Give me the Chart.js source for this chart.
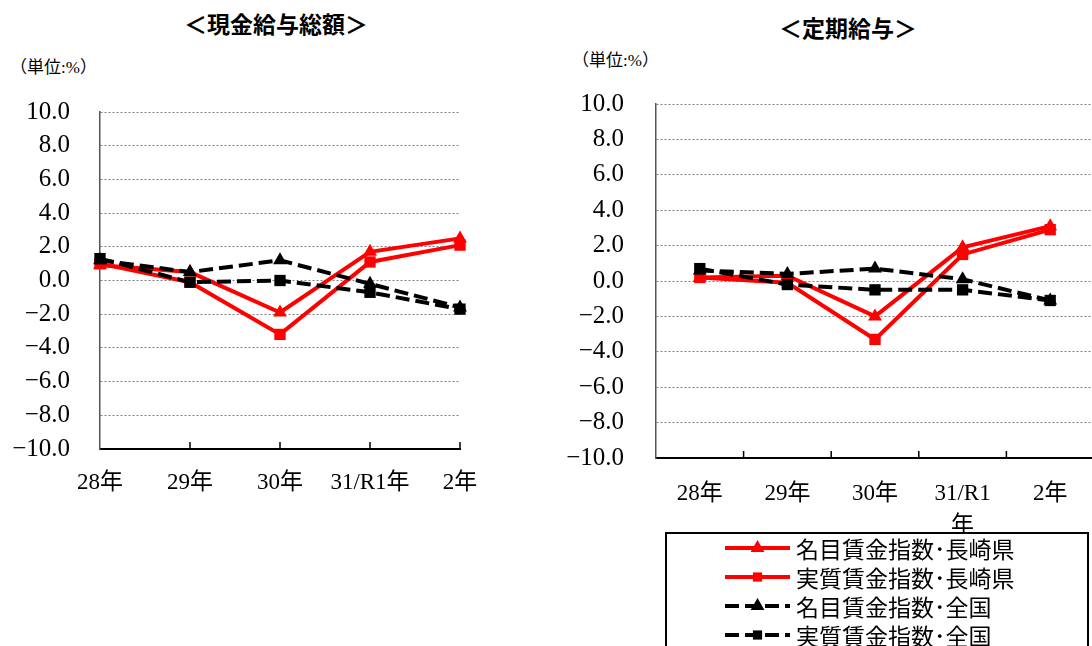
<!DOCTYPE html>
<html>
<head>
<meta charset="utf-8">
<script src="https://cdn.jsdelivr.net/npm/chart.js@4.4.1/dist/chart.umd.min.js"></script>
<style>
html,body{margin:0;padding:0;background:#fff;width:1092px;height:646px;overflow:hidden;position:relative;}
.t{position:absolute;font-family:"Noto Sans CJK JP",sans-serif;font-size:23px;font-weight:bold;color:#000;white-space:nowrap;transform:translate(-50%,-50%);}
.u{position:absolute;font-family:"Liberation Serif","Noto Sans CJK JP",serif;font-size:17px;color:#000;white-space:nowrap;transform:translateY(-50%);}
canvas{position:absolute;top:0;}
</style>
</head>
<body>
<div class="t" style="left:276px;top:23px;">＜現金給与総額＞</div>
<div class="t" style="left:848px;top:27px;">＜定期給与＞</div>
<div class="u" style="left:10px;top:65px;">（単位:%）</div>
<div class="u" style="left:572px;top:58px;">（単位:%）</div>
<canvas id="c1" width="546" height="646" style="left:0"></canvas>
<canvas id="c2" width="560" height="646" style="left:546px"></canvas>
<script>
// ---- data ----
const categoriesTotal = ['28年','29年','30年','31/R1年','2年'];
const categoriesRegular = ['28年','29年','30年',['31/R1','年'],'2年'];
const seriesNames = ['名目賃金指数･長崎県','実質賃金指数･長崎県','名目賃金指数･全国','実質賃金指数･全国'];
const yTicks = [-10,-8,-6,-4,-2,0,2,4,6,8,10];

// 現金給与総額
const nominalNagasakiTotal = [0.9, 0.5, -1.9, 1.7, 2.5];
const realNagasakiTotal    = [1.0, -0.1, -3.2, 1.1, 2.1];
const nominalNationalTotal = [1.2, 0.5, 1.2, -0.2, -1.6];
const realNationalTotal    = [1.3, -0.1, 0.0, -0.7, -1.7];

// 定期給与
const nominalNagasakiRegular = [0.2, 0.3, -2.0, 1.9, 3.1];
const realNagasakiRegular    = [0.2, -0.1, -3.3, 1.5, 2.9];
const nominalNationalRegular = [0.6, 0.4, 0.7, 0.1, -1.1];
const realNationalRegular    = [0.7, -0.2, -0.5, -0.5, -1.1];

// ---- styles ----
const RED = '#FF0000', BLACK = '#000000';
const styles = [
  {color:RED, dash:[], point:'triangle', r:8, order:2},
  {color:RED, dash:[], point:'rect', r:8, order:2},
  {color:BLACK, dash:[14,6], point:'triangle', r:8, order:1},
  {color:BLACK, dash:[14,6], point:'rect', r:8, order:1}
];
function makeDatasets(arrs){
  return arrs.map((d,i)=>({
    label: seriesNames[i], data: d,
    borderColor: styles[i].color, backgroundColor: styles[i].color,
    pointBackgroundColor: styles[i].color, pointBorderColor: styles[i].color,
    borderWidth: 4, borderDash: styles[i].dash,
    pointStyle: styles[i].point, pointRadius: styles[i].r, pointBorderWidth: 0,
    pointHoverRadius: styles[i].r,
    tension: 0, order: styles[i].order, clip: false
  }));
}
const fmt = v => (v < 0 ? '−' : '') + Math.abs(v).toFixed(1);

const innerTicks = {
  id:'innerTicks',
  afterDraw(chart){
    const xs = chart.scales.x, ctx = chart.ctx, n = chart.data.labels.length;
    const bottom = chart.chartArea.bottom;
    const offset = xs.options.offset;
    const step = xs.getPixelForValue(1) - xs.getPixelForValue(0);
    ctx.save();
    ctx.strokeStyle = '#000'; ctx.lineWidth = 1.5;
    for (let i = 1; i < n; i++) {
      const px = offset ? xs.getPixelForValue(i) - step/2 : xs.getPixelForValue(i);
      ctx.beginPath(); ctx.moveTo(px, bottom); ctx.lineTo(px, bottom - 7); ctx.stroke();
    }
    ctx.restore();
  }
};

const legendBox = {
  id:'legendBox',
  afterDraw(chart, args, o){
    if (!o || !o.show) return;
    const ctx = chart.ctx;
    ctx.save();
    ctx.fillStyle = '#fff';
    ctx.fillRect(o.x, o.y, o.w, o.h);
    ctx.strokeStyle = '#000'; ctx.lineWidth = 2;
    ctx.strokeRect(o.x, o.y, o.w, o.h);
    chart.data.datasets.forEach((ds, i) => {
      const y = o.y + o.first + i * o.gap;
      ctx.strokeStyle = ds.borderColor; ctx.lineWidth = 4;
      ctx.setLineDash(ds.borderDash || []);
      ctx.beginPath(); ctx.moveTo(o.lx0, y); ctx.lineTo(o.lx1, y); ctx.stroke();
      ctx.setLineDash([]);
      ctx.fillStyle = ds.pointBackgroundColor;
      Chart.helpers.drawPoint(ctx, {pointStyle: ds.pointStyle, radius: ds.pointStyle === 'rect' ? 6.5 : 8, rotation: 0, borderWidth: 0}, (o.lx0 + o.lx1)/2, y);
      ctx.fillStyle = '#000';
      ctx.font = '23px "Noto Sans CJK JP", sans-serif';
      ctx.textBaseline = 'middle'; ctx.textAlign = 'left';
      ctx.fillText(ds.label, o.tx, y + 1);
    });
    ctx.restore();
  }
};

function makeChart(id, labels, arrs, cfg){
  return new Chart(document.getElementById(id), {
    type: 'line',
    data: { labels: labels, datasets: makeDatasets(arrs) },
    plugins: [innerTicks, legendBox],
    options: {
      responsive: false, animation: false, devicePixelRatio: 1,
      layout: { padding: { top: cfg.top, right: cfg.right, left: 0, bottom: 0 } },
      plugins: { legend: { display: false }, tooltip: { enabled: false }, title: { display: false },
                 legendBox: cfg.legend || {show:false} },
      scales: {
        x: {
          type: 'category', offset: cfg.offset,
          grid: { display: false },
          border: { display: true, color: '#000', width: 2 },
          ticks: { color: '#000', autoSkip: false, maxRotation: 0, minRotation: 0, padding: cfg.xpad,
                   font: { family: '"Liberation Serif", "Noto Sans CJK JP", serif', size: 23, lineHeight: 1.4 } },
          afterFit: s => { s.height = cfg.xh; }
        },
        y: {
          min: -10, max: 10,
          afterBuildTicks: s => { s.ticks = yTicks.map(v => ({value: v})); },
          grid: { color: '#808080', lineWidth: 1, drawTicks: false },
          border: { display: true, color: '#555', width: 1.5, dash: [2, 2] },
          ticks: { color: '#000', padding: cfg.ypad, callback: v => fmt(v),
                   font: { family: '"Liberation Serif", serif', size: 25 } },
          afterFit: s => { s.width = cfg.yw; }
        }
      }
    }
  });
}

makeChart('c1', categoriesTotal,
  [nominalNagasakiTotal, realNagasakiTotal, nominalNationalTotal, realNationalTotal],
  {top:112, right:86, offset:false, xh:197, yw:100, xpad:10, ypad:30});

makeChart('c2', categoriesRegular,
  [nominalNagasakiRegular, realNagasakiRegular, nominalNationalRegular, realNationalRegular],
  {top:104, right:12, offset:true, xh:188, yw:110, xpad:12, ypad:32,
   legend:{show:true, x:120, y:533, w:422, h:130, first:15, gap:29, lx0:179, lx1:244, tx:250}});
</script>
</body>
</html>
